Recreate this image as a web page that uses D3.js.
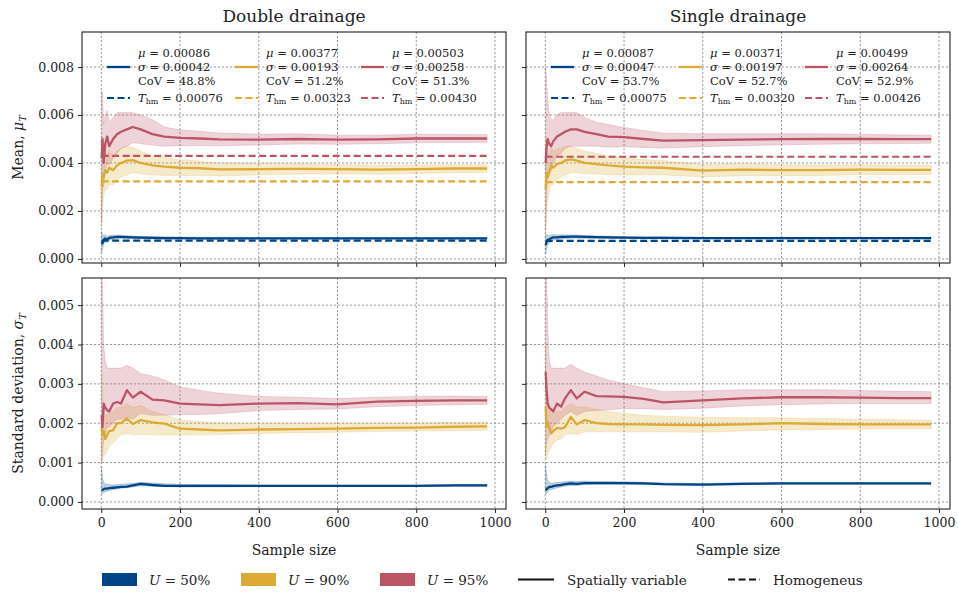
<!DOCTYPE html>
<html><head><meta charset="utf-8">
<script src="https://cdn.jsdelivr.net/npm/d3@7"></script>
<style>body{margin:0;background:#fff} svg{font-family:"DejaVu Serif",serif}</style>
</head><body><svg id="c" width="958" height="595"></svg>
<script>
// ---------------- DATA ----------------
const sampleSizes = [1, 3, 6, 10, 15, 20, 30, 40, 50, 65, 80, 100, 130, 160, 200, 250, 300, 400, 500, 600, 700, 800, 900, 980];
const seriesNames = ["U = 50%", "U = 90%", "U = 95%"];
const xTicks = [0, 200, 400, 600, 800, 1000];
const yTicksMean = [0, 0.002, 0.004, 0.006, 0.008];
const yTicksStd = [0, 0.001, 0.002, 0.003, 0.004, 0.005];
const panelTitles = ["Double drainage", "Single drainage"];

// Double drainage – running mean
const ddMean50 = [0.00072,0.00065,0.00080,0.00085,0.00080,0.00088,0.00090,0.00092,0.00092,0.00091,0.00090,0.00089,0.00088,0.00087,0.00087,0.00086,0.00086,0.00086,0.00086,0.00086,0.00086,0.00086,0.00086,0.00086];
const ddMean50Lo = [0.00025,0.00042,0.00062,0.00070,0.00070,0.00078,0.00081,0.00084,0.00085,0.00085,0.00084,0.00084,0.00083,0.00082,0.00083,0.00082,0.00082,0.00083,0.00083,0.00083,0.00083,0.00083,0.00083,0.00083];
const ddMean50Hi = [0.00115,0.00095,0.00100,0.00100,0.00092,0.00098,0.00099,0.00100,0.00099,0.00097,0.00096,0.00094,0.00093,0.00092,0.00091,0.00090,0.00090,0.00089,0.00089,0.00089,0.00089,0.00089,0.00089,0.00089];
const ddMean90 = [0.0030,0.0035,0.0034,0.0037,0.0036,0.0038,0.0037,0.0039,0.0040,0.0041,0.00412,0.0040,0.0039,0.00385,0.0038,0.00378,0.00373,0.00374,0.00375,0.00374,0.00372,0.00374,0.00377,0.00377];
const ddMean90Lo = [0.0012,0.0022,0.0026,0.0029,0.0029,0.0031,0.0031,0.0033,0.0034,0.0035,0.0036,0.00355,0.0035,0.00348,0.00347,0.00348,0.00346,0.00350,0.00353,0.00354,0.00353,0.00356,0.00360,0.00361];
const ddMean90Hi = [0.0048,0.0048,0.0042,0.0045,0.0043,0.0045,0.0043,0.0045,0.0046,0.0047,0.00465,0.0045,0.0043,0.00422,0.00413,0.00408,0.00400,0.00398,0.00397,0.00394,0.00391,0.00392,0.00394,0.00393];
const ddMean95 = [0.0042,0.0050,0.0040,0.0048,0.0051,0.0047,0.0050,0.0052,0.0053,0.0054,0.0055,0.0054,0.0052,0.0051,0.00505,0.00502,0.00498,0.00497,0.00500,0.00497,0.00498,0.00502,0.00502,0.00502];
const ddMean95Lo = [0.0015,0.0030,0.0030,0.0037,0.0040,0.0039,0.0042,0.0044,0.0046,0.0047,0.00485,0.0048,0.00475,0.0047,0.00472,0.00473,0.00472,0.00475,0.00479,0.00478,0.00480,0.00484,0.00485,0.00486];
const ddMean95Hi = [0.0070,0.0069,0.0056,0.0060,0.0062,0.0057,0.0059,0.0061,0.0061,0.0061,0.0061,0.0060,0.0058,0.0055,0.00538,0.00532,0.00525,0.00520,0.00522,0.00516,0.00516,0.00520,0.00519,0.00518];

// Single drainage – running mean
const sdMean50 = [0.00058,0.00070,0.00080,0.00082,0.00086,0.00090,0.00090,0.00092,0.00092,0.00093,0.00093,0.00092,0.00091,0.00090,0.00089,0.00088,0.00088,0.00087,0.00087,0.00087,0.00087,0.00087,0.00087,0.00087];
const sdMean50Lo = [0.00020,0.00040,0.00058,0.00066,0.00072,0.00078,0.00080,0.00083,0.00084,0.00086,0.00086,0.00086,0.00086,0.00085,0.00085,0.00084,0.00084,0.00084,0.00084,0.00084,0.00084,0.00084,0.00084,0.00084];
const sdMean50Hi = [0.00100,0.00100,0.00102,0.00098,0.00100,0.00102,0.00100,0.00101,0.00100,0.00100,0.00100,0.00098,0.00096,0.00095,0.00093,0.00092,0.00092,0.00090,0.00090,0.00090,0.00090,0.00090,0.00090,0.00090];
const sdMean90 = [0.0029,0.0036,0.0034,0.0036,0.0039,0.0038,0.00395,0.0040,0.0041,0.00415,0.0041,0.0040,0.00395,0.0039,0.00385,0.00382,0.0038,0.00368,0.00372,0.00370,0.00370,0.00372,0.00371,0.00371];
const sdMean90Lo = [0.0010,0.0020,0.0025,0.0028,0.0031,0.0031,0.0033,0.0034,0.0035,0.0036,0.0036,0.00355,0.00355,0.0035,0.00350,0.00350,0.00350,0.00342,0.00347,0.00347,0.00348,0.00351,0.00351,0.00352];
const sdMean90Hi = [0.0050,0.0047,0.0043,0.0044,0.0047,0.0045,0.0046,0.0046,0.0047,0.0047,0.0046,0.0045,0.0044,0.0043,0.00421,0.00414,0.00410,0.00394,0.00397,0.00393,0.00392,0.00393,0.00391,0.00390];
const sdMean95 = [0.0040,0.0046,0.0050,0.0048,0.0047,0.0049,0.0051,0.0052,0.0053,0.0054,0.0054,0.0053,0.0052,0.0051,0.00508,0.00500,0.00493,0.00495,0.00497,0.00499,0.00500,0.00500,0.00499,0.00499];
const sdMean95Lo = [0.0012,0.0025,0.0035,0.0036,0.0037,0.0040,0.0043,0.0044,0.0046,0.0047,0.0047,0.0047,0.0047,0.00466,0.00468,0.00465,0.00462,0.00468,0.00472,0.00476,0.00478,0.00480,0.00481,0.00482];
const sdMean95Hi = [0.0080,0.0075,0.0066,0.0061,0.0058,0.0058,0.0060,0.0061,0.0061,0.0061,0.0061,0.0059,0.0057,0.0056,0.00548,0.00535,0.00524,0.00522,0.00522,0.00522,0.00522,0.00520,0.00517,0.00516];

// Double drainage – running standard deviation
const ddStd50 = [0.00030,0.00031,0.00032,0.00034,0.00034,0.00035,0.00036,0.00037,0.00038,0.00039,0.00042,0.00046,0.00043,0.00041,0.00041,0.00041,0.00041,0.00041,0.00041,0.00041,0.00041,0.00041,0.00042,0.00042];
const ddStd50Lo = [0.00020,0.00022,0.00024,0.00025,0.00027,0.00029,0.00031,0.00033,0.00035,0.00036,0.00038,0.00041,0.00040,0.00039,0.00038,0.00038,0.00038,0.00039,0.00039,0.00039,0.00039,0.00039,0.00040,0.00040];
const ddStd50Hi = [0.00090,0.00060,0.00050,0.00046,0.00045,0.00044,0.00043,0.00044,0.00045,0.00046,0.00047,0.00050,0.00048,0.00046,0.00045,0.00044,0.00044,0.00043,0.00043,0.00043,0.00043,0.00043,0.00044,0.00044];
const ddStd90 = [0.0019,0.0017,0.0018,0.0016,0.0017,0.0018,0.00182,0.0020,0.0020,0.00212,0.00198,0.00208,0.00202,0.00199,0.00186,0.00184,0.00182,0.00184,0.00185,0.00186,0.00188,0.00189,0.00191,0.00192];
const ddStd90Lo = [0.0010,0.0011,0.0012,0.0012,0.0013,0.0014,0.0015,0.0016,0.0017,0.00174,0.0017,0.00172,0.0017,0.0017,0.0017,0.0017,0.00171,0.00174,0.00176,0.00177,0.00179,0.0018,0.00181,0.00182];
const ddStd90Hi = [0.0032,0.0026,0.0024,0.0022,0.0022,0.0023,0.0023,0.0024,0.0024,0.0025,0.0024,0.00245,0.0023,0.00222,0.00208,0.00204,0.00201,0.0020,0.0020,0.0020,0.0020,0.00201,0.00202,0.00203];
const ddStd95 = [0.0022,0.0019,0.0025,0.0024,0.00233,0.0023,0.0025,0.00254,0.0025,0.00284,0.00265,0.0028,0.0026,0.00258,0.0025,0.00248,0.00246,0.0025,0.00251,0.00248,0.00255,0.00257,0.00258,0.00258];
const ddStd95Lo = [0.0010,0.0012,0.0016,0.0017,0.0019,0.0019,0.0020,0.0021,0.0021,0.00215,0.0021,0.00225,0.0022,0.0022,0.00222,0.00222,0.00224,0.00232,0.00235,0.00236,0.00242,0.00245,0.00247,0.00248];
const ddStd95Hi = [0.0058,0.0055,0.0040,0.0036,0.0034,0.0034,0.0034,0.0034,0.0034,0.00347,0.0034,0.00326,0.0032,0.0031,0.00292,0.00284,0.00276,0.00268,0.00266,0.00263,0.00266,0.00268,0.00269,0.00268];

// Single drainage – running standard deviation
const sdStd50 = [0.0003,0.00032,0.00035,0.00038,0.00038,0.00040,0.00042,0.00043,0.00045,0.00047,0.00046,0.00048,0.00048,0.00048,0.00048,0.00047,0.00045,0.00044,0.00046,0.00047,0.00047,0.00047,0.00047,0.00047];
const sdStd50Lo = [0.0002,0.00022,0.00026,0.0003,0.00031,0.00033,0.00036,0.00038,0.0004,0.00042,0.00042,0.00044,0.00045,0.00045,0.00045,0.00044,0.00043,0.00042,0.00044,0.00045,0.00045,0.00045,0.00045,0.00045];
const sdStd50Hi = [0.00093,0.0007,0.00055,0.0005,0.00048,0.00048,0.0005,0.0005,0.00052,0.00053,0.00052,0.00053,0.00052,0.00052,0.00051,0.0005,0.00048,0.00047,0.00049,0.00049,0.00049,0.00049,0.00049,0.00049];
const sdStd90 = [0.00242,0.0019,0.00203,0.0019,0.00174,0.0018,0.00188,0.00186,0.0019,0.00216,0.00197,0.00208,0.002,0.00198,0.00197,0.00197,0.00196,0.00195,0.00197,0.002,0.00198,0.00197,0.00197,0.00197];
const sdStd90Lo = [0.0011,0.0011,0.0012,0.0013,0.0014,0.0015,0.00157,0.0016,0.0017,0.00174,0.00172,0.00178,0.00178,0.00178,0.00178,0.00178,0.00178,0.00177,0.0018,0.00183,0.00184,0.00185,0.00186,0.00186];
const sdStd90Hi = [0.0040,0.0027,0.0025,0.0024,0.0022,0.0023,0.0023,0.0023,0.0024,0.0025,0.0024,0.00242,0.00235,0.0023,0.00225,0.0022,0.00218,0.00215,0.00214,0.00214,0.00212,0.0021,0.00209,0.00208];
const sdStd95 = [0.0033,0.0029,0.0025,0.0024,0.00235,0.0023,0.0025,0.00242,0.00263,0.00284,0.00263,0.0028,0.00269,0.00268,0.00267,0.00262,0.00253,0.00258,0.00263,0.00266,0.00266,0.00265,0.00264,0.00264];
const sdStd95Lo = [0.0012,0.0015,0.0016,0.0017,0.0018,0.0019,0.0020,0.0021,0.0022,0.0023,0.0022,0.0023,0.00232,0.00234,0.00237,0.00237,0.00235,0.00238,0.00244,0.00247,0.00249,0.0025,0.0025,0.0025];
const sdStd95Hi = [0.0060,0.0060,0.0045,0.0036,0.0034,0.0034,0.0034,0.0034,0.0034,0.0035,0.0034,0.0033,0.0032,0.0031,0.0030,0.0029,0.0028,0.00282,0.00285,0.00285,0.00285,0.00283,0.00281,0.0028];

// Homogeneous reference values
const ddHomog = [0.00076, 0.00323, 0.00430];
const sdHomog = [0.00075, 0.00320, 0.00426];
// Legend statistics
const ddMu = ["0.00086", "0.00377", "0.00503"];
const ddSigma = ["0.00042", "0.00193", "0.00258"];
const ddCoV = ["48.8%", "51.2%", "51.3%"];
const sdMu = ["0.00087", "0.00371", "0.00499"];
const sdSigma = ["0.00047", "0.00197", "0.00264"];
const sdCoV = ["53.7%", "52.7%", "52.9%"];

const colors = ["#004488", "#DDAA33", "#BB5566"];
const textColor = "#222";

// ---------------- LAYOUT ----------------
const svg = d3.select("#c");
const panels = [
  {x0:82, x1:506, y0:32, y1:263, kind:"mean", lbl:true, title:panelTitles[0],
   s:[[ddMean50,ddMean50Lo,ddMean50Hi],[ddMean90,ddMean90Lo,ddMean90Hi],[ddMean95,ddMean95Lo,ddMean95Hi]],
   homog:ddHomog, mu:ddMu, sg:ddSigma, cov:ddCoV},
  {x0:526, x1:950, y0:32, y1:263, kind:"mean", lbl:false, title:panelTitles[1],
   s:[[sdMean50,sdMean50Lo,sdMean50Hi],[sdMean90,sdMean90Lo,sdMean90Hi],[sdMean95,sdMean95Lo,sdMean95Hi]],
   homog:sdHomog, mu:sdMu, sg:sdSigma, cov:sdCoV},
  {x0:82, x1:506, y0:278, y1:509, kind:"std", lbl:true,
   s:[[ddStd50,ddStd50Lo,ddStd50Hi],[ddStd90,ddStd90Lo,ddStd90Hi],[ddStd95,ddStd95Lo,ddStd95Hi]]},
  {x0:526, x1:950, y0:278, y1:509, kind:"std", lbl:false,
   s:[[sdStd50,sdStd50Lo,sdStd50Hi],[sdStd90,sdStd90Lo,sdStd90Hi],[sdStd95,sdStd95Lo,sdStd95Hi]]}
];

panels.forEach((p, pi) => {
  const x = d3.scaleLinear().domain([-49, 1028]).range([p.x0, p.x1]);
  const y = p.kind === "mean"
    ? d3.scaleLinear().domain([-0.00017, 0.00946]).range([p.y1, p.y0])
    : d3.scaleLinear().domain([-0.00018, 0.00569]).range([p.y1, p.y0]);
  const yt = p.kind === "mean" ? yTicksMean : yTicksStd;
  const g = svg.append("g");
  const cid = "clip" + pi;
  svg.append("clipPath").attr("id", cid).append("rect")
    .attr("x", p.x0).attr("y", p.y0).attr("width", p.x1 - p.x0).attr("height", p.y1 - p.y0);

  // grid
  const grid = g.append("g").attr("stroke", "#555").attr("stroke-width", 0.8)
    .attr("stroke-dasharray", "2.2,1.8").attr("opacity", 0.75);
  xTicks.forEach(t => grid.append("line").attr("x1", x(t)).attr("x2", x(t)).attr("y1", p.y0).attr("y2", p.y1));
  yt.forEach(t => grid.append("line").attr("x1", p.x0).attr("x2", p.x1).attr("y1", y(t)).attr("y2", y(t)));

  const plot = g.append("g").attr("clip-path", `url(#${cid})`);
  const area = d3.area().x((d, i) => x(sampleSizes[i])).y0(d => y(d[0])).y1(d => y(d[1]));
  const line = d3.line().x((d, i) => x(sampleSizes[i])).y(d => y(d));
  p.s.forEach((ser, k) => {
    const band = ser[1].map((lo, i) => [lo, ser[2][i]]);
    plot.append("path").attr("d", area(band)).attr("fill", colors[k]).attr("fill-opacity", 0.25)
      .attr("stroke", colors[k]).attr("stroke-opacity", 0.25).attr("stroke-width", 0.8);
  });
  p.s.forEach((ser, k) => {
    plot.append("path").attr("d", line(ser[0])).attr("fill", "none").attr("stroke", colors[k])
      .attr("stroke-width", 2.3).attr("stroke-linejoin", "round");
  });
  if (p.homog) {
    p.homog.forEach((h, k) => {
      plot.append("line").attr("x1", x(sampleSizes[0])).attr("x2", x(sampleSizes[sampleSizes.length - 1]))
        .attr("y1", y(h)).attr("y2", y(h)).attr("stroke", colors[k]).attr("stroke-width", 2.2)
        .attr("stroke-dasharray", "7,3.5");
    });
  }

  // frame + ticks
  g.append("rect").attr("x", p.x0).attr("y", p.y0).attr("width", p.x1 - p.x0).attr("height", p.y1 - p.y0)
    .attr("fill", "none").attr("stroke", "#222").attr("stroke-width", 1.1);
  const axY = d3.axisLeft(y).tickValues(yt).tickSize(4).tickPadding(4)
    .tickFormat(p.lbl ? d3.format(".3f") : () => "");
  const gy = g.append("g").attr("transform", `translate(${p.x0},0)`).call(axY);
  gy.select(".domain").remove();
  const axX = d3.axisBottom(x).tickValues(xTicks).tickSize(4).tickPadding(5)
    .tickFormat(p.kind === "std" ? d3.format("d") : () => "");
  const gx = g.append("g").attr("transform", `translate(0,${p.y1})`).call(axX);
  gx.select(".domain").remove();
  [gx, gy].forEach(a => {
    a.selectAll("text").attr("font-family", "DejaVu Serif").attr("font-size", 12.5).attr("fill", textColor);
    a.selectAll("line").attr("stroke", "#222").attr("stroke-width", 1);
  });

  if (p.title) {
    svg.append("text").attr("x", (p.x0 + p.x1) / 2).attr("y", 22).attr("text-anchor", "middle")
      .attr("font-size", 17).attr("fill", textColor).text(p.title);
  }
  if (p.kind === "std") {
    svg.append("text").attr("x", (p.x0 + p.x1) / 2).attr("y", 555).attr("text-anchor", "middle")
      .attr("font-size", 14).attr("fill", textColor).text("Sample size");
  }
  if (p.lbl) {
    const t = svg.append("text").attr("transform", `translate(23,${(p.y0 + p.y1) / 2}) rotate(-90)`)
      .attr("text-anchor", "middle").attr("font-size", 14).attr("fill", textColor);
    t.append("tspan").text(p.kind === "mean" ? "Mean, " : "Standard deviation, ");
    t.append("tspan").attr("font-style", "italic").text(p.kind === "mean" ? "μ" : "σ");
    t.append("tspan").attr("font-style", "italic").attr("font-size", 10).attr("dy", 3).text("T");
  }

  // in-panel legend
  if (p.mu) {
    const offs = [25, 153, 279];
    const fs = 11.5;
    offs.forEach((o, k) => {
      const hx = p.x0 + o;
      g.append("line").attr("x1", hx).attr("x2", hx + 23).attr("y1", 67).attr("y2", 67)
        .attr("stroke", colors[k]).attr("stroke-width", 2.3);
      g.append("line").attr("x1", hx).attr("x2", hx + 23).attr("y1", 98).attr("y2", 98)
        .attr("stroke", colors[k]).attr("stroke-width", 2.2).attr("stroke-dasharray", "7,3.5");
      const tx = hx + 31;
      const mk = (yy, sym, val) => {
        const tt = g.append("text").attr("x", tx).attr("y", yy).attr("font-size", fs)
          .attr("fill", textColor).attr("dominant-baseline", "central");
        if (sym) tt.append("tspan").attr("font-style", "italic").text(sym);
        tt.append("tspan").text(val);
        return tt;
      };
      mk(53, "μ", " = " + p.mu[k]);
      mk(67, "σ", " = " + p.sg[k]);
      mk(81, null, "CoV = " + p.cov[k]);
      const th = g.append("text").attr("x", tx).attr("y", 98).attr("font-size", fs)
        .attr("fill", textColor).attr("dominant-baseline", "central");
      th.append("tspan").attr("font-style", "italic").text("T");
      th.append("tspan").attr("font-size", 8).attr("dy", 3).text("hm");
      th.append("tspan").attr("dy", -3).text(" = " + p.homog[k].toFixed(5));
    });
  }
});

// bottom legend
const leg = svg.append("g");
const patchX = [102, 241, 380];
patchX.forEach((px, k) => {
  leg.append("rect").attr("x", px).attr("y", 573).attr("width", 35).attr("height", 13).attr("fill", colors[k]);
  const parts = seriesNames[k].split(" = ");
  const t = leg.append("text").attr("x", px + 47).attr("y", 580).attr("dominant-baseline", "central")
    .attr("font-size", 13.5).attr("fill", textColor);
  t.append("tspan").attr("font-style", "italic").text(parts[0]);
  t.append("tspan").text(" = " + parts[1]);
});
leg.append("line").attr("x1", 518).attr("x2", 554).attr("y1", 579.5).attr("y2", 579.5).attr("stroke", "#111").attr("stroke-width", 2.2);
leg.append("text").attr("x", 567).attr("y", 580).attr("dominant-baseline", "central").attr("font-size", 13.5).attr("fill", textColor).text("Spatially variable");
leg.append("line").attr("x1", 728).attr("x2", 760).attr("y1", 579.5).attr("y2", 579.5).attr("stroke", "#111").attr("stroke-width", 2.2).attr("stroke-dasharray", "7,3.5");
leg.append("text").attr("x", 773).attr("y", 580).attr("dominant-baseline", "central").attr("font-size", 13.5).attr("fill", textColor).text("Homogeneus");
</script></body></html>
